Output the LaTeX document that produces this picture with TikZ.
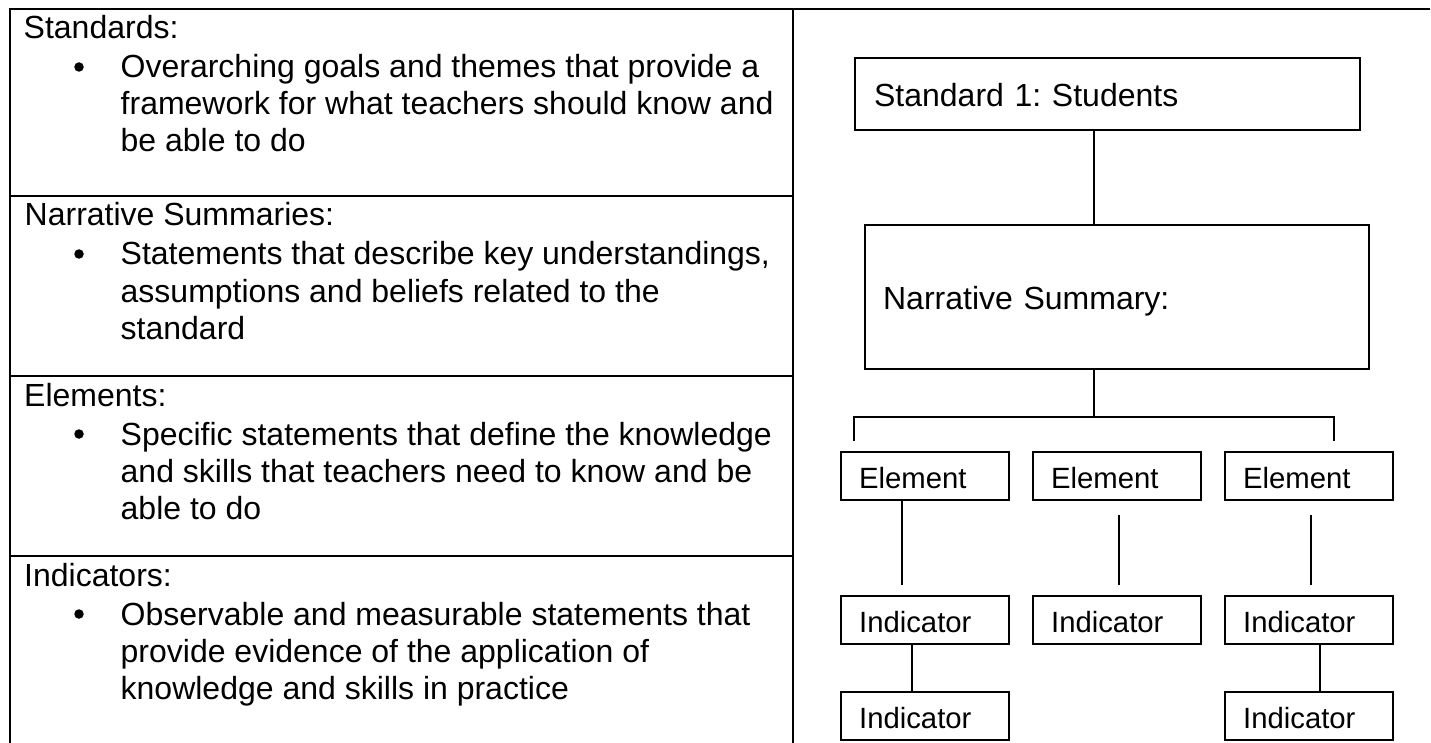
\documentclass[tikz,border=0pt]{standalone}
\usepackage{fontspec}
\setmainfont{Liberation Sans}
\frenchspacing
\begin{document}
\begin{tikzpicture}[x=1pt,y=-1pt,
  rule/.style={line width=2.8pt},
  conn/.style={line width=2pt},
  tx/.style={anchor=base west, inner sep=0pt, font=\fontsize{32}{37}\selectfont},
  dot/.style={circle, fill=black, inner sep=0pt, minimum size=9.5pt},
  bigbox/.style={draw, line width=2.2pt, anchor=north west, inner ysep=0pt,
    align=left, font=\fontsize{32}{37}\selectfont},
  smallbox/.style={draw, line width=2.2pt, anchor=north west, inner ysep=0pt,
    inner xsep=18pt, text width=132pt, text height=36.5pt, text depth=11.5pt,
    align=left, font=\fontsize{29.3}{34}\selectfont}]
\useasboundingbox (0,0) rectangle (1431,743);
\fill[white] (0,0) rectangle (1431,743);

% ---- table frame ----
\draw[rule] (8.6,9) -- (1430,9);
\draw[rule] (10,9) -- (10,743);
\draw[rule] (793,9) -- (793,743);
\draw[rule] (10,196) -- (793,196);
\draw[rule] (10,376) -- (793,376);
\draw[rule] (10,556) -- (793,556);

% ---- left column: definitions ----
\node[tx] (h1) at (23.5,39) {Standards:};
\node[dot] (b1) at (79,67) {};
\node[tx] (s1a) at (120.5,78) {Overarching goals and themes that provide a};
\node[tx] (s1b) at (120.5,115) {framework for what teachers should know and};
\node[tx] (s1c) at (120.5,152) {be able to do};

\node[tx] (h2) at (24.5,226) {Narrative Summaries:};
\node[dot] (b2) at (79,254) {};
\node[tx] (s2a) at (120.5,265) {Statements that describe key understandings,};
\node[tx] (s2b) at (120.5,302) {assumptions and beliefs related to the};
\node[tx] (s2c) at (120.5,339) {standard};

\node[tx] (h3) at (24,406) {Elements:};
\node[dot] (b3) at (79,434) {};
\node[tx] (s3a) at (120.5,445) {Specific statements that define the knowledge};
\node[tx] (s3b) at (120.5,482) {and skills that teachers need to know and be};
\node[tx] (s3c) at (120.5,519) {able to do};

\node[tx] (h4) at (24,586) {Indicators:};
\node[dot] (b4) at (79,614) {};
\node[tx] (s4a) at (120.5,625) {Observable and measurable statements that};
\node[tx] (s4b) at (120.5,662) {provide evidence of the application of};
\node[tx] (s4c) at (120.5,699) {knowledge and skills in practice};

% ---- right column: hierarchy ----
\node[bigbox, inner xsep=19pt, text width=467pt, text height=48pt, text depth=24pt]
  (std) at (854,57) {Standard 1: Students};
\node[bigbox, inner xsep=18pt, text width=468pt, text height=84pt, text depth=60pt]
  (nar) at (864,224) {Narrative Summary:};

\node[smallbox] (el1) at (840,451) {Element};
\node[smallbox] (el2) at (1032,451) {Element};
\node[smallbox] (el3) at (1224,451) {Element};

\node[smallbox] (in1) at (840,595) {Indicator};
\node[smallbox] (in2) at (1032,595) {Indicator};
\node[smallbox] (in3) at (1224,595) {Indicator};
\node[smallbox] (in4) at (840,691) {Indicator};
\node[smallbox] (in5) at (1224,691) {Indicator};

% trunk and bus
\coordinate (trunk) at (1094,417);
\coordinate (busL) at (854,441);
\coordinate (busR) at (1334,441);
\draw[conn] (std.south -| trunk) -- (nar.north -| trunk);
\draw[conn] (nar.south -| trunk) -- (trunk);
\draw[conn] (busL) -- (busL |- trunk) -- (busR |- trunk) -- (busR);

% element to indicator links
\coordinate (c1) at (902,0);
\coordinate (c2) at (1119,0);
\coordinate (c3) at (1311,0);
\draw[conn, shorten >=10pt] (el1.south -| c1) -- (in1.north -| c1);
\draw[conn, shorten <=14pt, shorten >=10pt] (el2.south -| c2) -- (in2.north -| c2);
\draw[conn, shorten <=14pt, shorten >=10pt] (el3.south -| c3) -- (in3.north -| c3);

% indicator to indicator links
\coordinate (d1) at (912,0);
\coordinate (d3) at (1320,0);
\draw[conn] (in1.south -| d1) -- (in4.north -| d1);
\draw[conn] (in3.south -| d3) -- (in5.north -| d3);
\end{tikzpicture}
\end{document}
